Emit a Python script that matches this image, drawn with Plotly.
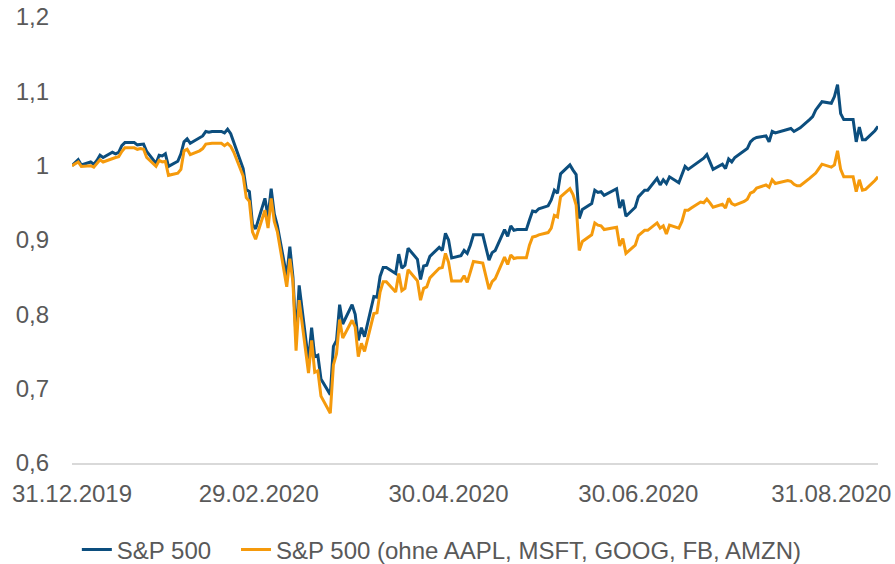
import plotly.graph_objects as go

# ---- data (index, 31.12.2019 = 1) ----
trading_days = {
    "2019-12": [31],
    "2020-01": [2, 3, 6, 7, 8, 9, 10, 13, 14, 15, 16, 17, 20, 21, 22, 23, 24, 27, 28, 29, 30, 31],
    "2020-02": [3, 4, 5, 6, 7, 10, 11, 12, 13, 14, 17, 18, 19, 20, 21, 24, 25, 26, 27, 28],
    "2020-03": [2, 3, 4, 5, 6, 9, 10, 11, 12, 13, 16, 17, 18, 19, 20, 23, 24, 25, 26, 27, 30, 31],
    "2020-04": [1, 2, 3, 6, 7, 8, 9, 10, 13, 14, 15, 16, 17, 20, 21, 22, 23, 24, 27, 28, 29, 30],
    "2020-05": [1, 4, 5, 6, 7, 8, 11, 12, 13, 14, 15, 18, 19, 20, 21, 22, 25, 26, 27, 28, 29],
    "2020-06": [1, 2, 3, 4, 5, 8, 9, 10, 11, 12, 15, 16, 17, 18, 19, 22, 23, 24, 25, 26, 29, 30],
    "2020-07": [1, 2, 3, 6, 7, 8, 9, 10, 13, 14, 15, 16, 17, 20, 21, 22, 23, 24, 27, 28, 29, 30, 31],
    "2020-08": [3, 4, 5, 6, 7, 10, 11, 12, 13, 14, 17, 18, 19, 20, 21, 24, 25, 26, 27, 28, 31],
    "2020-09": [1, 2, 3, 4, 7, 8, 9, 10, 11, 14, 15],
}

sp500 = {
    "2019-12": [1.000],
    "2020-01": [1.008, 1.001, 1.005, 1.002, 1.007, 1.014, 1.011, 1.018, 1.016, 1.018, 1.027, 1.031, 1.031,
                1.028, 1.028, 1.029, 1.019, 1.003, 1.014, 1.013, 1.016, 0.999],
    "2020-02": [1.006, 1.016, 1.032, 1.036, 1.030, 1.037, 1.040, 1.046, 1.045, 1.046, 1.046, 1.044, 1.049,
                1.043, 1.031, 0.996, 0.968, 0.965, 0.921, 0.915],
    "2020-03": [0.956, 0.931, 0.969, 0.935, 0.919, 0.851, 0.891, 0.850, 0.768, 0.839, 0.737, 0.782, 0.743,
                0.745, 0.713, 0.692, 0.757, 0.765, 0.813, 0.787, 0.813, 0.800],
    "2020-04": [0.765, 0.782, 0.770, 0.824, 0.823, 0.851, 0.863, 0.863, 0.855, 0.881, 0.862, 0.866, 0.889,
                0.874, 0.847, 0.865, 0.866, 0.878, 0.890, 0.886, 0.909, 0.900],
    "2020-05": [0.876, 0.879, 0.886, 0.882, 0.893, 0.907, 0.907, 0.888, 0.873, 0.883, 0.886, 0.914, 0.905,
                0.919, 0.913, 0.914, 0.914, 0.927, 0.939, 0.938, 0.942],
    "2020-06": [0.946, 0.954, 0.967, 0.963, 0.989, 1.001, 0.994, 0.988, 0.929, 0.941, 0.949, 0.967, 0.964,
                0.965, 0.960, 0.966, 0.969, 0.943, 0.954, 0.932, 0.944, 0.958],
    "2020-07": [0.963, 0.967, 0.967, 0.983, 0.974, 0.981, 0.976, 0.985, 0.977, 0.988, 0.999, 0.995, 0.998,
                1.006, 1.010, 1.015, 1.005, 0.995, 1.002, 0.996, 1.009, 1.005, 1.011],
    "2020-08": [1.020, 1.023, 1.032, 1.036, 1.038, 1.040, 1.032, 1.046, 1.044, 1.045, 1.048, 1.050, 1.046,
                1.048, 1.051, 1.062, 1.066, 1.075, 1.080, 1.086, 1.084],
    "2020-09": [1.093, 1.109, 1.070, 1.062, 1.062, 1.032, 1.052, 1.035, 1.035, 1.047, 1.053],
}

sp500_ex5 = {
    "2019-12": [1.000],
    "2020-01": [1.005, 0.999, 1.000, 0.998, 1.003, 1.008, 1.005, 1.010, 1.011, 1.012, 1.019, 1.024, 1.024,
                1.022, 1.023, 1.022, 1.011, 0.999, 1.007, 1.005, 1.006, 0.987],
    "2020-02": [0.990, 0.995, 1.020, 1.022, 1.015, 1.020, 1.023, 1.029, 1.030, 1.030, 1.030, 1.027, 1.030,
                1.026, 1.018, 0.986, 0.957, 0.952, 0.911, 0.901],
    "2020-03": [0.940, 0.916, 0.956, 0.925, 0.911, 0.837, 0.875, 0.843, 0.751, 0.819, 0.721, 0.765, 0.722,
                0.724, 0.690, 0.667, 0.732, 0.747, 0.793, 0.768, 0.792, 0.783],
    "2020-04": [0.743, 0.761, 0.750, 0.801, 0.802, 0.830, 0.844, 0.844, 0.830, 0.855, 0.832, 0.835, 0.860,
                0.845, 0.819, 0.835, 0.837, 0.849, 0.862, 0.863, 0.882, 0.870],
    "2020-05": [0.845, 0.845, 0.852, 0.843, 0.857, 0.871, 0.869, 0.851, 0.834, 0.844, 0.848, 0.877, 0.867,
                0.880, 0.875, 0.876, 0.876, 0.893, 0.904, 0.905, 0.907],
    "2020-06": [0.910, 0.916, 0.933, 0.931, 0.958, 0.969, 0.961, 0.947, 0.886, 0.898, 0.907, 0.923, 0.920,
                0.919, 0.914, 0.916, 0.917, 0.892, 0.902, 0.882, 0.893, 0.906],
    "2020-07": [0.909, 0.913, 0.913, 0.923, 0.916, 0.919, 0.908, 0.920, 0.916, 0.925, 0.940, 0.940, 0.943,
                0.951, 0.950, 0.955, 0.950, 0.944, 0.948, 0.943, 0.956, 0.949, 0.947],
    "2020-08": [0.952, 0.955, 0.963, 0.965, 0.970, 0.974, 0.971, 0.981, 0.976, 0.977, 0.980, 0.979, 0.975,
                0.973, 0.973, 0.983, 0.986, 0.990, 0.996, 1.002, 0.998],
    "2020-09": [1.001, 1.020, 0.995, 0.985, 0.985, 0.965, 0.981, 0.967, 0.968, 0.980, 0.985],
}

tick_dates = ["2019-12-31", "2020-02-29", "2020-04-30", "2020-06-30", "2020-08-31"]
tick_labels = ["31.12.2019", "29.02.2020", "30.04.2020", "30.06.2020", "31.08.2020"]
y_ticks = [0.6, 0.7, 0.8, 0.9, 1.0, 1.1, 1.2]
y_labels = ["0,6", "0,7", "0,8", "0,9", "1", "1,1", "1,2"]

series_names = ["S&P 500", "S&P 500 (ohne AAPL, MSFT, GOOG, FB, AMZN)"]

# ---- assemble ----
dates, blue, orange = [], [], []
for month, days in trading_days.items():
    for i, d in enumerate(days):
        dates.append(f"{month}-{d:02d}")
        blue.append(sp500[month][i])
        orange.append(sp500_ex5[month][i])

BLUE = "#0C4E7E"
ORANGE = "#F59A0C"
TXT = "#595959"
FONT = "Liberation Sans, Arial, sans-serif"

fig = go.Figure()
fig.add_trace(go.Scatter(x=dates, y=blue, mode="lines", name=series_names[0],
                         line=dict(color=BLUE, width=3), legend="legend"))
fig.add_trace(go.Scatter(x=dates, y=orange, mode="lines", name=series_names[1],
                         line=dict(color=ORANGE, width=3), legend="legend2"))

fig.update_layout(
    width=895, height=564, autosize=False,
    margin=dict(l=72, r=17, t=17, b=101, autoexpand=False),
    paper_bgcolor="white", plot_bgcolor="white",
    font=dict(family=FONT, size=24, color=TXT),
    showlegend=True,
    legend=dict(orientation="h", x=0.006, xanchor="left", y=-0.195, yanchor="middle",
                font=dict(size=24, color=TXT), bgcolor="rgba(0,0,0,0)"),
    legend2=dict(orientation="h", x=0.2035, xanchor="left", y=-0.195, yanchor="middle",
                 font=dict(size=24, color=TXT), bgcolor="rgba(0,0,0,0)"),
)
fig.update_xaxes(
    type="date", range=["2019-12-31", "2020-09-15"],
    tickvals=tick_dates, ticktext=tick_labels,
    showgrid=False, zeroline=False, automargin=False,
    showline=True, linecolor="#D9D9D9", linewidth=1.5,
    ticks="", ticklabelstandoff=8, ticklabeloverflow="allow",
    tickfont=dict(size=24, color=TXT, family=FONT),
)
fig.update_yaxes(
    range=[0.6, 1.2], tickvals=y_ticks, ticktext=y_labels,
    showgrid=False, zeroline=False, showline=False, automargin=False,
    ticks="", ticklabelstandoff=22, ticklabeloverflow="allow",
    tickfont=dict(size=24, color=TXT, family=FONT),
)

# remove the default page margin so the 895x564 figure fills the window exactly
fig.write_html("out.html",
               config={"displayModeBar": False},
               post_script="document.body.style.margin='0';document.body.style.overflow='hidden';")
